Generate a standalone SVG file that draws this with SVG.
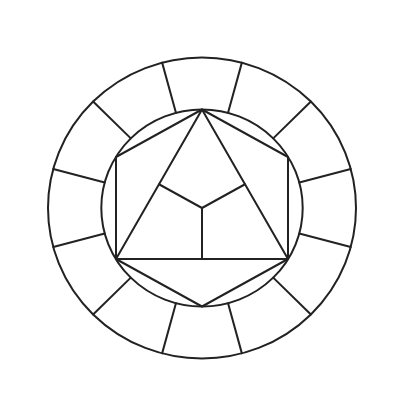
<svg xmlns="http://www.w3.org/2000/svg" width="400" height="400" viewBox="0 0 400 400">
<style>
.s{fill:none;stroke:#222;stroke-width:2;stroke-linejoin:round;stroke-linecap:round}
</style>
<rect width="400" height="400" fill="#fff"/>
<g id="outer-ring" class="s">
<ellipse cx="202" cy="208" rx="154" ry="150.5"/>
<ellipse cx="202" cy="208" rx="100.7" ry="98.5"/>
</g>
<g id="ring-dividers" class="s">
<line x1="228.06" y1="112.86" x2="241.86" y2="62.63"/>
<line x1="273.21" y1="138.35" x2="310.89" y2="101.58"/>
<line x1="299.27" y1="182.51" x2="350.75" y2="169.05"/>
<line x1="299.27" y1="233.49" x2="350.75" y2="246.95"/>
<line x1="273.21" y1="277.65" x2="310.89" y2="314.42"/>
<line x1="228.06" y1="303.14" x2="241.86" y2="353.37"/>
<line x1="175.94" y1="303.14" x2="162.14" y2="353.37"/>
<line x1="130.79" y1="277.65" x2="93.11" y2="314.42"/>
<line x1="104.73" y1="233.49" x2="53.25" y2="246.95"/>
<line x1="104.73" y1="182.51" x2="53.25" y2="169.05"/>
<line x1="130.79" y1="138.35" x2="93.11" y2="101.58"/>
<line x1="175.94" y1="112.86" x2="162.14" y2="62.63"/>
</g>
<g id="hexagon" class="s">
<polygon points="202,109.5 288,157 288,259 202,306.5 116,259 116,157"/>
</g>
<g id="triangle" class="s">
<polygon points="202,109.5 288,259 116,259"/>
<polyline points="159,184.25 202,208 245,184.25"/>
<line x1="202" y1="208" x2="202" y2="259"/>
</g>
</svg>
